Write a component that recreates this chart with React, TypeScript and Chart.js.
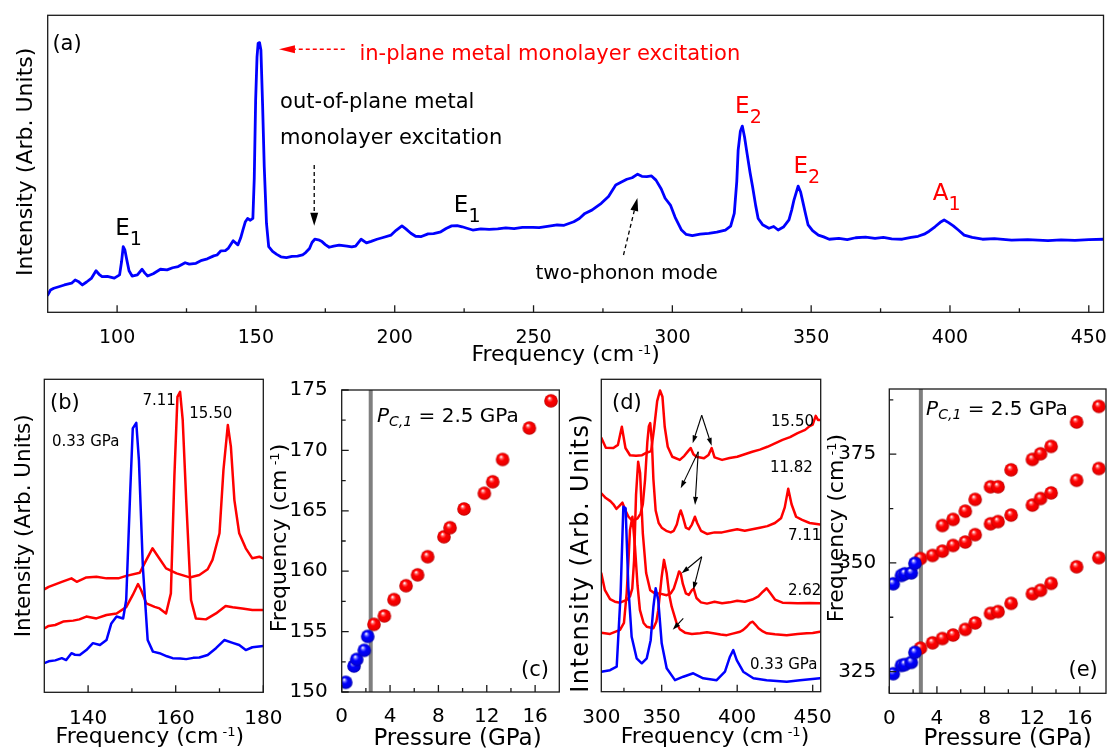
import React, { useEffect, useRef } from 'react';
import { Chart, registerables } from 'chart.js';

Chart.register(...registerables);

const FAM = '"DejaVu Sans", Verdana, sans-serif';

// ---------------- Panel (a): Raman spectrum ----------------
const aFreq = [75, 76, 77.2, 79, 81, 83.6, 84.9, 86, 87.5, 89, 90.7, 92.4, 93.5, 94.6, 96.5, 99, 100.9, 101.6, 102.2, 102.8, 103.5, 104.3, 105.4, 107.3, 109, 110, 111, 113, 115.6, 118, 120, 122, 124.5, 126, 128.4, 130.5, 132.5, 134.8, 136, 137.4, 139, 140, 141.8, 143.5, 144.5, 145.3, 146.2, 147, 148, 148.9, 149.4, 149.9, 150.4, 150.8, 151.3, 151.8, 152.4, 153, 153.8, 154.6, 156, 157.5, 159, 161, 163, 165, 166.8, 168, 169.3, 170.2, 171.2, 172.5, 173.8, 175, 176.4, 178, 180, 182.8, 184.5, 185.9, 187.9, 189.8, 191.5, 193.6, 195.5, 198.7, 200.5, 202.6, 204, 205.8, 207.5, 209.6, 212, 214, 216.6, 218.5, 220.5, 222.5, 224.3, 226, 228.1, 231, 234, 237.1, 240, 243, 246, 249.8, 252, 255, 258.5, 261, 264.5, 266.5, 268.5, 271, 274.4, 277, 279.6, 281.5, 283.6, 285.5, 287.5, 289, 290.8, 292.5, 294.1, 296, 297.4, 299.3, 301, 303.3, 305, 307.2, 310, 313.1, 316, 319.1, 321, 322.3, 323.2, 323.7, 324.5, 325.2, 326, 326.9, 328, 328.9, 330, 330.9, 332.5, 334.8, 336.5, 338.1, 340, 342, 343, 343.8, 345.3, 346.2, 347, 348, 348.9, 350.5, 352.6, 354.5, 356.5, 360, 363, 366, 369.6, 373, 376, 379, 382.8, 386, 388.5, 390.7, 392.5, 394.6, 396.5, 397.9, 399.5, 401.2, 403, 405.1, 408, 411.7, 416, 422.2, 428, 435.3, 440, 445, 450, 455.3];
const aInt = [5.8, 7.5, 8.1, 8.6, 9.2, 9.8, 10.9, 10.4, 9.2, 10.2, 11.4, 14, 12.8, 12, 12.1, 11.5, 12.6, 17, 22.1, 21, 17.6, 14, 12.2, 12.6, 14.5, 13.2, 12.2, 13, 14.5, 14.3, 15, 15.4, 16.7, 16.2, 16.5, 17.5, 18, 19, 19.3, 20.7, 20.8, 21.5, 24.1, 22.7, 25, 27.7, 30.5, 31.6, 31, 31.6, 45, 71.5, 86, 90.6, 90.8, 88.3, 70, 49, 30, 22.1, 20.5, 19.5, 18.7, 18.4, 18.8, 18.9, 19.3, 20.2, 21.5, 23.5, 24.6, 24.4, 23.8, 22.8, 21.9, 22.3, 22.6, 22.3, 22, 22.3, 24.6, 23.4, 23.9, 24.6, 25.1, 26, 27.6, 29.1, 28.1, 26.6, 25.6, 25.5, 26.4, 26.5, 27.1, 28.2, 29.1, 29.2, 28.8, 28.3, 27.7, 28.1, 27.9, 28.1, 28.4, 28.2, 28.6, 28.6, 28.5, 28.9, 29.4, 29.3, 30.5, 31.6, 33.3, 34.4, 36.7, 39, 42.9, 43.8, 44.8, 45.3, 46.5, 45.8, 45.7, 45.9, 44.5, 41.5, 38.4, 36.1, 32, 27.7, 26.2, 25.8, 26.3, 26.6, 27, 27.7, 29, 33.3, 44, 54.6, 61, 62.7, 59, 53.5, 47, 42.3, 36, 31.6, 29.5, 28.3, 28.9, 27.7, 28.7, 31.1, 34.5, 37.8, 42.5, 40.5, 37.2, 33, 29.4, 27.5, 26, 25.4, 24.6, 24.9, 24.5, 25.1, 25.3, 24.9, 25.2, 24.7, 24.6, 25.2, 25.6, 26.3, 27.3, 28.8, 30.3, 31.1, 30.2, 29.1, 27.7, 26, 25.2, 24.6, 24.8, 24.3, 24.5, 24.1, 24.4, 24.2, 24.5, 24.6];
const aTicks = [100, 150, 200, 250, 300, 350, 400, 450];
const aMinor = [125, 175, 225, 275, 325, 375, 425];

// ---------------- Panel (b): low-frequency spectra ----------------
const bFreq033 = [130, 131, 132.5, 134, 135, 136.2, 137, 138.1, 139.6, 141.1, 142.7, 144.2, 145.3, 146.5, 148, 148.7, 149.6, 150.2, 151, 151.6, 152.5, 153.6, 154.8, 156.3, 158, 159.3, 161, 162.4, 164, 165.4, 167.3, 169.2, 171.1, 173, 174.5, 176, 177.5, 180];
const bInt033 = [9.3, 9.9, 10.2, 10.9, 10.3, 12.5, 12, 11.9, 13.5, 15.7, 15.1, 16.7, 22, 24.2, 23.6, 29.5, 63.6, 84.3, 86.1, 74.2, 40.1, 16.7, 13, 12.5, 11.5, 10.9, 10.8, 10.6, 11, 11.1, 11.9, 14.1, 16.7, 15.8, 15.1, 13.5, 14.4, 14.8];
const bFreq711 = [130, 131, 132.5, 134.3, 136.6, 138, 139.6, 141.9, 144.2, 146.5, 148.7, 150.2, 151.4, 152.1, 153.3, 155.2, 156.3, 157.8, 158.9, 159.7, 160.4, 161, 161.6, 162.4, 163.5, 164.6, 166.9, 169.2, 171.4, 173, 175.2, 177.5, 180];
const bInt711 = [20.4, 21.2, 21.5, 22.6, 22.9, 23.3, 24.2, 23.6, 24.7, 25.2, 27.2, 31.1, 34.6, 32.7, 28.4, 27.3, 26.8, 25.2, 31.6, 68.9, 94.4, 96, 87, 61.4, 29.5, 23.6, 23.3, 25.2, 27.6, 27.2, 26.8, 26.3, 26.3];
const bFreq1550 = [130, 131, 134, 136.2, 137.4, 139.6, 141.9, 144.2, 146.9, 148.7, 151.8, 153.3, 154.7, 156, 157.8, 160.2, 163.2, 165.4, 167.3, 168.4, 170, 170.9, 171.9, 172.6, 173.4, 174.5, 176, 177.5, 179.1, 180];
const bInt1550 = [32.9, 33.7, 35.3, 36.4, 35.3, 36.7, 36.9, 36.4, 36.4, 37.2, 38.2, 42.3, 46, 43.3, 39.6, 38, 36.7, 37.5, 39.3, 42.3, 50.8, 71, 85.4, 78.5, 61.4, 50.8, 46, 42.8, 43.3, 42.8];
const bTicks = [140, 160, 180];
const bMinor = [150, 170];

// ---------------- Panel (c): peak position vs pressure ----------------
const cPressBlue = [0.33, 1.02, 1.24, 1.87, 2.15];
const cFreqBlue = [150.8, 152.15, 152.7, 153.45, 154.6];
const cPressRed = [2.67, 3.53, 4.33, 5.32, 6.28, 7.11, 8.46, 8.96, 10.12, 11.8, 12.49, 13.31, 15.52, 17.31];
const cFreqRed = [155.6, 156.3, 157.65, 158.8, 159.7, 161.2, 162.85, 163.6, 165.15, 166.45, 167.4, 169.25, 171.85, 174.1];
const cCritical = 2.4;
const cXTicks = [0, 4, 8, 12, 16];
const cXMinor = [2, 6, 10, 14];
const cYTicks = [150, 155, 160, 165, 170, 175];
const cYMinor = [152.5, 157.5, 162.5, 167.5, 172.5];

// ---------------- Panel (d): high-frequency spectra ----------------
const dFreq033 = [310, 315.8, 320.2, 322.8, 324.6, 326.1, 327.9, 330.1, 333.4, 336.8, 340.1, 342.7, 344.5, 346, 347.7, 350, 353.3, 358.8, 364.3, 370.9, 377.5, 386.4, 391.9, 395.2, 397.4, 399.7, 404, 410.7, 419.5, 432.8, 441.6, 454.8];
const dInt033 = [6.4, 6.9, 8, 31.5, 59.2, 58.7, 33.6, 17.6, 10.7, 9.1, 10.7, 16.5, 27.2, 33.1, 29.4, 15.5, 7.5, 3.7, 4.8, 5.9, 4.3, 3.7, 6.4, 11.2, 13.3, 10.1, 6.4, 4.3, 3.7, 3.2, 3.7, 4.3];
const dFreq262 = [310, 315.8, 322.4, 325, 326.8, 328, 329, 330.6, 332.3, 334, 335.6, 338, 340.1, 344.5, 346.5, 347.7, 350, 351.5, 353.3, 355, 356.6, 359.9, 362, 365.4, 370, 375.4, 380, 384.2, 389, 393.1, 397, 401.9, 404, 406.3, 408.5, 410.3, 412, 414.1, 417, 419.6, 425, 432.8, 440, 446.1, 450, 454.8];
const dInt262 = [18.9, 18.5, 19.8, 22, 31.5, 42, 51.8, 56, 46.4, 34, 26.1, 22, 20.8, 20.3, 22.5, 26.1, 36.8, 42.2, 37.9, 31, 27.2, 21.9, 20, 18.9, 18.5, 18.7, 19, 18.7, 18.3, 18.1, 18.6, 19.2, 19.8, 20.8, 22, 22.4, 21.5, 20.3, 19.3, 18.7, 18.4, 18.1, 18.5, 18.7, 18.8, 19.2];
const dFreq711 = [310, 312.4, 315.8, 319, 322.4, 326.8, 329, 330.5, 331.7, 333, 334.4, 335.7, 336.8, 337.5, 339.7, 342.4, 345.7, 349, 353.3, 356, 358, 360, 361.5, 362.6, 364, 366, 368, 370, 371.2, 373, 376, 380, 385, 390, 395, 400, 405, 410, 414, 417, 419.5, 422, 425, 430, 440, 448, 455];
const dInt711 = [37.9, 32.5, 29.6, 28.8, 28.5, 29.4, 30.5, 33, 42, 63, 73.6, 70, 58, 50.7, 38, 32.5, 31.4, 31.4, 30.9, 31.5, 33, 36, 38.5, 37.9, 34.5, 31.5, 31, 32.5, 33, 30, 28.6, 28.2, 28.8, 28.3, 28.6, 29.1, 28.8, 29.5, 30.5, 32, 33.1, 31.5, 29.5, 28.5, 28.3, 28.4, 28.3];
const dFreq1182 = [310, 313, 316, 318, 320, 322, 324, 326, 328, 330, 332, 334, 336, 337.5, 339, 340.5, 341.5, 342.4, 343.5, 344.5, 346, 348, 350, 353, 356, 358, 360, 361.5, 362.6, 364, 366, 368, 370, 372, 373.5, 376, 380, 385, 390, 395, 400, 405, 410, 415, 420, 425, 429, 431.5, 433.8, 436, 439, 443, 448, 455];
const dInt1182 = [63.5, 62, 61, 60, 58.5, 59.5, 60.5, 58, 56, 55, 55, 55.5, 57, 60, 68, 80, 85, 86, 80, 68, 58, 54, 52.5, 51.5, 51, 51.5, 53.5, 56.5, 58, 56, 52.5, 52, 53.5, 56, 54, 51.5, 50.5, 51, 51, 51.5, 52, 51.5, 52, 52.5, 53, 54, 55.5, 59, 65, 60, 56, 55, 54, 53.5];
const dFreq1550 = [310, 313, 318, 321, 323.6, 326, 329, 333, 337, 340, 343, 345, 347, 348.9, 350.5, 352, 354, 357, 362, 365, 367.5, 369.2, 371, 373, 378, 381, 383.1, 385, 390, 395, 400, 405, 410, 415, 420, 425, 430, 435, 440, 445, 448, 450, 452, 453.5, 455];
const dInt1550 = [81.3, 78.1, 78, 79, 84.8, 78, 75.7, 75.5, 75.7, 76.5, 77, 84.4, 93, 96.4, 94.4, 84.8, 78.4, 75.2, 74.2, 75.5, 77, 78, 76, 75.2, 74.7, 75.8, 78, 75, 74.2, 74.8, 75.2, 76, 76.8, 77.5, 78.4, 79.5, 80.6, 81.5, 82.8, 83.8, 85, 85.5, 88.3, 87, 87];
const dTicks = [310, 350, 400, 450];
const dTickLabels = ['300', '350', '400', '450'];
const dMinor = [325, 375, 425];

// ---------------- Panel (e): mode frequencies vs pressure ----------------
const ePressBlue = [0.33, 1.02, 1.3, 1.85, 2.15];
const eLowBlue = [324.5, 326.4, 326.6, 327.1, 329.4];
const eMidBlue = [345.2, 347.1, 347.5, 347.7, 349.9];
const ePressRed = [2.62, 3.63, 4.46, 5.36, 6.38, 7.21, 8.5, 9.13, 10.23, 12.02, 12.7, 13.59, 15.73, 17.6];
const eLowRed = [330.4, 331.6, 332.6, 333.4, 334.7, 336.2, 338.4, 338.8, 340.7, 342.9, 343.7, 345.3, 349.1, 351.2];
const eMidRed = [351, 351.7, 352.7, 354, 354.8, 356.5, 359, 359.5, 361, 363.3, 364.8, 366.1, 369, 371.7];
const ePressUp = [4.46, 5.36, 6.38, 7.21, 8.5, 9.13, 10.23, 12.02, 12.7, 13.59, 15.73, 17.6];
const eUpRed = [358.6, 360, 361.9, 364.6, 367.5, 367.5, 371.4, 373.8, 375.1, 376.8, 382.4, 386];
const eCritical = 2.65;
const eXTicks = [0, 4, 8, 12, 16];
const eXMinor = [2, 6, 10, 14];
const eYTicks = [325, 350, 375];
const eYMinor = [337.5, 362.5, 387.5];

// ---------------- helpers ----------------
const zip = (xs: number[], ys: number[]) => xs.map((x, i) => ({ x, y: ys[i] }));
const font = (s: number, it = false) => `${it ? 'italic ' : ''}${s}px ${FAM}`;

type Seg = { t: string; s: number; dy?: number; it?: boolean; ls?: number };

function segWidth(ctx: any, g: Seg) {
  ctx.font = font(g.s, g.it);
  if (!g.ls) return ctx.measureText(g.t).width;
  let w = 0;
  for (const ch of g.t) w += ctx.measureText(ch).width + g.ls;
  return w - g.ls;
}

function drawRich(ctx: any, segs: Seg[], x: number, y: number, color: string, align = 'left', rotate = false) {
  ctx.save();
  ctx.fillStyle = color;
  ctx.textBaseline = 'alphabetic';
  ctx.textAlign = 'left';
  ctx.translate(x, y);
  if (rotate) ctx.rotate(-Math.PI / 2);
  let w = 0;
  for (const g of segs) w += segWidth(ctx, g);
  let cx = align === 'left' ? 0 : align === 'center' ? -w / 2 : -w;
  for (const g of segs) {
    ctx.font = font(g.s, g.it);
    if (g.ls) {
      for (const ch of g.t) { ctx.fillText(ch, cx, g.dy || 0); cx += ctx.measureText(ch).width + g.ls; }
    } else {
      ctx.fillText(g.t, cx, g.dy || 0);
      cx += ctx.measureText(g.t).width;
    }
  }
  ctx.restore();
}

function arrow(ctx: any, x1: number, y1: number, x2: number, y2: number, color: string, dash: number[] | null, lw: number, hl: number, hw: number) {
  const a = Math.atan2(y2 - y1, x2 - x1);
  const bx = x2 - hl * Math.cos(a), by = y2 - hl * Math.sin(a);
  ctx.save();
  ctx.strokeStyle = color; ctx.fillStyle = color; ctx.lineWidth = lw;
  if (dash) ctx.setLineDash(dash);
  ctx.beginPath(); ctx.moveTo(x1, y1); ctx.lineTo(bx, by); ctx.stroke();
  ctx.setLineDash([]);
  ctx.beginPath();
  ctx.moveTo(x2, y2);
  ctx.lineTo(bx + (hw / 2) * Math.sin(a), by - (hw / 2) * Math.cos(a));
  ctx.lineTo(bx - (hw / 2) * Math.sin(a), by + (hw / 2) * Math.cos(a));
  ctx.closePath(); ctx.fill();
  ctx.restore();
}

function frame(chart: any, xMaj: number[], xMin: number[], yMaj: number[] = [], yMin: number[] = []) {
  const { ctx, chartArea: a, scales } = chart;
  ctx.save();
  ctx.strokeStyle = '#1a1a1a';
  ctx.lineWidth = 1.3;
  ctx.strokeRect(a.left, a.top, a.right - a.left, a.bottom - a.top);
  ctx.beginPath();
  const tx = (v: number, l: number) => { const p = scales.x.getPixelForValue(v); ctx.moveTo(p, a.bottom); ctx.lineTo(p, a.bottom - l); };
  const ty = (v: number, l: number) => { const p = scales.y.getPixelForValue(v); ctx.moveTo(a.left, p); ctx.lineTo(a.left + l, p); };
  xMaj.forEach((v) => tx(v, 7)); xMin.forEach((v) => tx(v, 4));
  yMaj.forEach((v) => ty(v, 7)); yMin.forEach((v) => ty(v, 4));
  ctx.stroke();
  ctx.restore();
}

const balls: Record<string, HTMLCanvasElement> = {};
function ball(kind: 'red' | 'blue') {
  if (balls[kind]) return balls[kind];
  const r = 6.8;
  const s = 16;
  const c = document.createElement('canvas');
  c.width = s; c.height = s;
  const g = c.getContext('2d')!;
  const cx = s / 2, cy = s / 2;
  const grad = g.createRadialGradient(cx - r * 0.25, cy - r * 0.42, r * 0.05, cx, cy, r);
  if (kind === 'red') {
    grad.addColorStop(0, '#ffffff');
    grad.addColorStop(0.2, '#ff6060');
    grad.addColorStop(0.42, '#ff0000');
    grad.addColorStop(0.85, '#e80000');
    grad.addColorStop(1, '#b00000');
  } else {
    grad.addColorStop(0, '#ffffff');
    grad.addColorStop(0.2, '#6a6aff');
    grad.addColorStop(0.42, '#0000ff');
    grad.addColorStop(0.85, '#0000e0');
    grad.addColorStop(1, '#0000a0');
  }
  g.fillStyle = grad;
  g.beginPath(); g.arc(cx, cy, r, 0, Math.PI * 2); g.fill();
  balls[kind] = c;
  return c;
}

function xScale(min: number, max: number, ticks: number[], size: number, pad: number, boxH: number, labels?: string[]) {
  return {
    type: 'linear', min, max,
    grid: { display: false }, border: { display: false },
    ticks: {
      font: { family: FAM, size }, color: '#000', padding: pad, autoSkip: false, maxRotation: 0, minRotation: 0,
      callback: (v: number) => { const i = ticks.indexOf(v); return labels && i >= 0 ? labels[i] : String(v); },
    },
    afterBuildTicks: (s: any) => { s.ticks = ticks.map((v) => ({ value: v })); },
    afterFit: (s: any) => { s.height = boxH; },
  };
}
function yScale(min: number, max: number, ticks: number[], size: number, pad: number, boxW: number) {
  return {
    type: 'linear', min, max,
    grid: { display: false }, border: { display: false },
    ticks: { font: { family: FAM, size }, color: '#000', padding: pad, autoSkip: false, callback: (v: number) => String(v) },
    afterBuildTicks: (s: any) => { s.ticks = ticks.map((v) => ({ value: v })); },
    afterFit: (s: any) => { s.width = boxW; },
  };
}
const hiddenY = (min: number, max: number) => ({ type: 'linear', display: false, min, max });

const lineDs = (xs: number[], ys: number[], color: string, w: number, order = 0) => ({
  data: zip(xs, ys), showLine: true, borderColor: color, borderWidth: w, pointRadius: 0, tension: 0, order,
  borderJoinStyle: 'round', borderCapStyle: 'round',
});
const ballDs = (xs: number[], ys: number[], kind: 'red' | 'blue', order = 0) => ({
  data: zip(xs, ys), showLine: false, pointStyle: ball(kind), pointRadius: 6, order,
});
const vline = (x: number, y0: number, y1: number) => ({
  data: [{ x, y: y0 }, { x, y: y1 }], showLine: true, borderColor: '#7f7f7f', borderWidth: 4, pointRadius: 0, order: 10,
});

function config(pad: any, scales: any, datasets: any[], draw: (chart: any) => void) {
  return {
    type: 'scatter',
    data: { datasets },
    options: {
      responsive: false, animation: false, devicePixelRatio: 1, events: [],
      layout: { padding: pad },
      plugins: { legend: { display: false }, tooltip: { enabled: false } },
      scales,
    },
    plugins: [{ id: 'deco', afterDatasetsDraw: (chart: any) => draw(chart) }],
  };
}

const freqTitle = (s: number): Seg[] => [
  { t: 'Frequency', s }, { t: ' (cm', s }, { t: ' -1', s: 13, dy: -7 }, { t: ')', s },
];

// ---------------- panel configs ----------------
function cfgA() {
  return config(
    { left: 47.7, right: 5.3, top: 15.3, bottom: 0 },
    { x: xScale(75, 455.3, aTicks, 19, 6, 59.7), y: hiddenY(0, 100) },
    [lineDs(aFreq, aInt, '#0000ff', 2.8)],
    (chart) => {
      const { ctx, chartArea: a, scales } = chart;
      const X = (v: number) => scales.x.getPixelForValue(v);
      const Y = (v: number) => scales.y.getPixelForValue(v);
      frame(chart, aTicks, aMinor);
      drawRich(ctx, [{ t: '(a)', s: 21 }], X(76.7), Y(88.3), '#000');
      arrow(ctx, X(182), Y(88.6), X(158.3), Y(88.6), '#ff0000', [4, 3], 1.5, 16, 8);
      drawRich(ctx, [{ t: 'in-plane metal monolayer excitation', s: 21 }], X(187.3), Y(85), '#ff0000');
      drawRich(ctx, [{ t: 'out-of-plane metal', s: 21 }], X(158.7), Y(68.8), '#000');
      drawRich(ctx, [{ t: 'monolayer excitation', s: 21 }], X(158.7), Y(56.7), '#000');
      arrow(ctx, X(171), Y(49.6), X(171), Y(29.1), '#000', [4, 3], 1.3, 13, 8);
      drawRich(ctx, [{ t: 'E', s: 23 }, { t: '1', s: 19, dy: 10 }], X(99.3), Y(26), '#000');
      drawRich(ctx, [{ t: 'E', s: 23 }, { t: '1', s: 19, dy: 10 }], X(221.3), Y(33.8), '#000');
      drawRich(ctx, [{ t: 'two-phonon mode', s: 20 }], X(250.7), Y(11.2), '#000');
      arrow(ctx, X(282.4), Y(19.3), X(287.4), Y(38.5), '#000', [4, 3], 1.3, 13, 8);
      drawRich(ctx, [{ t: 'E', s: 23 }, { t: '2', s: 19, dy: 10 }], X(322.6), Y(67), '#ff0000');
      drawRich(ctx, [{ t: 'E', s: 23 }, { t: '2', s: 19, dy: 10 }], X(343.6), Y(46.9), '#ff0000');
      drawRich(ctx, [{ t: 'A', s: 23 }, { t: '1', s: 19, dy: 10 }], X(393.8), Y(37.8), '#ff0000');
      drawRich(ctx, freqTitle(22), (a.left + a.right) / 2 - 10, a.bottom + 49, '#000', 'center');
      drawRich(ctx, [{ t: 'Intensity (Arb. Units)', s: 22 }], a.left - 15.7, (a.top + a.bottom) / 2 - 2, '#000', 'center', true);
    },
  );
}

function cfgB() {
  return config(
    { left: 44.3, right: 36.7, top: 7.3, bottom: 0 },
    { x: xScale(130, 180, bTicks, 20, 6, 57.7), y: hiddenY(0, 100) },
    [
      lineDs(bFreq1550, bInt1550, '#ff0000', 2.5, 2),
      lineDs(bFreq711, bInt711, '#ff0000', 2.5, 1),
      lineDs(bFreq033, bInt033, '#0000ff', 2.5, 0),
    ],
    (chart) => {
      const { ctx, chartArea: a, scales } = chart;
      const X = (v: number) => scales.x.getPixelForValue(v);
      const Y = (v: number) => scales.y.getPixelForValue(v);
      frame(chart, bTicks, bMinor);
      drawRich(ctx, [{ t: '(b)', s: 21 }], X(131.3), Y(90.4), '#000');
      drawRich(ctx, [{ t: '0.33 GPa', s: 15 }], X(131.75), Y(78.8), '#000');
      drawRich(ctx, [{ t: '7.11', s: 15 }], X(152.4), Y(91.9), '#000');
      drawRich(ctx, [{ t: '15.50', s: 15 }], X(163.1), Y(87.5), '#000');
      drawRich(ctx, freqTitle(22), (a.left + a.right) / 2 - 4, a.bottom + 51, '#000', 'center');
      drawRich(ctx, [{ t: 'Intensity (Arb. Units)', s: 21.5 }], a.left - 14.3, (a.top + a.bottom) / 2 - 10, '#000', 'center', true);
    },
  );
}

function pcText(ctx: any, x: number, y: number) {
  drawRich(ctx, [
    { t: 'P', s: 20, it: true }, { t: 'C,1', s: 14, it: true, dy: 4 }, { t: ' = 2.5 GPa', s: 20 },
  ], x, y, '#000');
}

function cfgC() {
  return config(
    { left: 0, right: 20.7, top: 6.3, bottom: 0 },
    { x: xScale(0, 18, cXTicks, 20, 5, 58), y: yScale(150, 175, cYTicks, 20, 6, 81.7) },
    [
      vline(cCritical, 150, 175),
      ballDs(cPressBlue, cFreqBlue, 'blue'),
      ballDs(cPressRed, cFreqRed, 'red'),
    ],
    (chart) => {
      const { ctx, chartArea: a, scales } = chart;
      const X = (v: number) => scales.x.getPixelForValue(v);
      const Y = (v: number) => scales.y.getPixelForValue(v);
      frame(chart, cXTicks, cXMinor, cYTicks, cYMinor);
      pcText(ctx, X(2.92), Y(172.33));
      drawRich(ctx, [{ t: '(c)', s: 21 }], X(14.83), Y(151.35), '#000');
      drawRich(ctx, [{ t: 'Pressure (GPa)', s: 23 }], (a.left + a.right) / 2 + 7, a.bottom + 53, '#000', 'center');
      drawRich(ctx, freqTitle(22), a.left - 55.7, (a.top + a.bottom) / 2 - 3, '#000', 'center', true);
    },
  );
}

function cfgD() {
  return config(
    { left: 41.3, right: 19.3, top: 7.3, bottom: 0 },
    { x: xScale(310, 455.3, dTicks, 20, 6, 58.3, dTickLabels), y: hiddenY(0, 100) },
    [
      lineDs(dFreq1550, dInt1550, '#ff0000', 2.5, 4),
      lineDs(dFreq1182, dInt1182, '#ff0000', 2.5, 3),
      lineDs(dFreq711, dInt711, '#ff0000', 2.5, 2),
      lineDs(dFreq262, dInt262, '#ff0000', 2.5, 1),
      lineDs(dFreq033, dInt033, '#0000ff', 2.5, 0),
    ],
    (chart) => {
      const { ctx, chartArea: a, scales } = chart;
      const X = (v: number) => scales.x.getPixelForValue(v);
      const Y = (v: number) => scales.y.getPixelForValue(v);
      frame(chart, [350, 400, 450], dMinor);
      drawRich(ctx, [{ t: '(d)', s: 21 }], X(317.1), Y(90.4), '#000');
      drawRich(ctx, [{ t: '15.50', s: 15 }], X(422.4), Y(85.2), '#000');
      drawRich(ctx, [{ t: '11.82', s: 15 }], X(421.7), Y(70.2), '#000');
      drawRich(ctx, [{ t: '7.11', s: 15 }], X(433.6), Y(48.4), '#000');
      drawRich(ctx, [{ t: '2.62', s: 15 }], X(433.6), Y(30.8), '#000');
      drawRich(ctx, [{ t: '0.33 GPa', s: 15 }], X(408.5), Y(7.4), '#000');
      const ar = (x1: number, y1: number, x2: number, y2: number) => arrow(ctx, X(x1), Y(y1), X(x2), Y(y2), '#000', null, 1.1, 8, 5);
      ar(376.5, 88.5, 370.5, 79.5); ar(376.5, 88.5, 383.1, 78.7);
      ar(374.2, 76.8, 362.6, 65.1); ar(374.2, 76.8, 372.1, 59.8);
      ar(376.5, 43.2, 363.2, 37.9); ar(376.5, 43.2, 370.9, 32.6);
      ar(364.3, 23.5, 357.3, 19.8);
      drawRich(ctx, freqTitle(22), (a.left + a.right) / 2 + 4, a.bottom + 51, '#000', 'center');
      drawRich(ctx, [{ t: 'Intensity (Arb. Units)', s: 24, ls: 1.4 }], a.left - 13.3, (a.top + a.bottom) / 2 + 18, '#000', 'center', true);
    },
  );
}

function cfgE() {
  return config(
    { left: 0, right: 3, top: 11.3, bottom: 0 },
    { x: xScale(0, 18.2, eXTicks, 20, 5, 56.7), y: yScale(320, 390, eYTicks, 20, 5, 69.3) },
    [
      vline(eCritical, 320, 390),
      ballDs(ePressBlue, eLowBlue, 'blue'),
      ballDs(ePressBlue, eMidBlue, 'blue'),
      ballDs(ePressRed, eLowRed, 'red'),
      ballDs(ePressRed, eMidRed, 'red'),
      ballDs(ePressUp, eUpRed, 'red'),
    ],
    (chart) => {
      const { ctx, chartArea: a, scales } = chart;
      const X = (v: number) => scales.x.getPixelForValue(v);
      const Y = (v: number) => scales.y.getPixelForValue(v);
      frame(chart, eXTicks, eXMinor, eYTicks, eYMinor);
      pcText(ctx, X(3.09), Y(383.95));
      drawRich(ctx, [{ t: '(e)', s: 21 }], X(15.05), Y(323.9), '#000');
      drawRich(ctx, [{ t: 'Pressure (GPa)', s: 23 }], (a.left + a.right) / 2 + 10, a.bottom + 51.7, '#000', 'center');
      drawRich(ctx, freqTitle(22), a.left - 46.3, (a.top + a.bottom) / 2 - 13, '#000', 'center', true);
    },
  );
}

function Panel({ left, top, width, height, make }: any) {
  const ref = useRef<HTMLCanvasElement>(null);
  useEffect(() => {
    const chart = new Chart(ref.current as HTMLCanvasElement, make() as any);
    return () => chart.destroy();
  }, []);
  return (
    <canvas
      ref={ref}
      width={width}
      height={height}
      style={{ position: 'absolute', left, top, width, height, display: 'block' }}
    />
  );
}

export default function App() {
  return (
    <div style={{ position: 'fixed', left: 0, top: 0, width: 1113, height: 750, background: '#fff', overflow: 'hidden' }}>
      <Panel left={0} top={0} width={1113} height={372} make={cfgA} />
      <Panel left={0} top={372} width={300} height={378} make={cfgB} />
      <Panel left={260} top={372} width={320} height={378} make={cfgC} />
      <Panel left={560} top={372} width={280} height={378} make={cfgD} />
      <Panel left={820} top={372} width={293} height={378} make={cfgE} />
    </div>
  );
}
